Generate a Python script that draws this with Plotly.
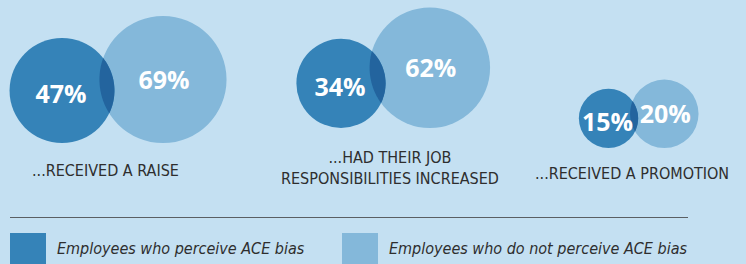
import math
import plotly.graph_objects as go

# ---- data ----
categories = ["...RECEIVED A RAISE", "...HAD THEIR JOB<br>RESPONSIBILITIES INCREASED", "...RECEIVED A PROMOTION"]
perceive_bias = [47, 34, 15]
no_perceive_bias = [69, 62, 20]
series_names = ["Employees who perceive ACE bias", "Employees who do not perceive ACE bias"]

# ---- layout constants (pixels) ----
W, H = 746, 264
BG = "#c4e0f2"
DARK = "#3583b8"
LIGHT = "#84b8da"
LENS = "#23649e"
TXT = "#2e2e2e"
FONT_C = "DejaVu Sans Condensed"
K = 7.65                     # radius = K * sqrt(value)  (area proportional)
dark_cx = [62, 341, 608.5]
bottom = [143, 128, 148]
overlap = [15, 16, 8]
label_x = [105, 390, 632]
label_y = [170, 168, 173.5]

fig = go.Figure()
shapes = []
pct_x, pct_y, pct_t = [], [], []

def lens_path(c1, r1, c2, r2, n=40):
    (x1, y1), (x2, y2) = c1, c2
    d = math.hypot(x2 - x1, y2 - y1)
    a = (r1**2 - r2**2 + d**2) / (2 * d)
    h = math.sqrt(max(r1**2 - a**2, 0))
    ux, uy = (x2 - x1) / d, (y2 - y1) / d
    px, py = x1 + a * ux, y1 + a * uy
    pA = (px + h * uy, py - h * ux)
    pB = (px - h * uy, py + h * ux)
    def ang(c, p):
        return math.atan2(p[1] - c[1], p[0] - c[0])
    mid = math.atan2(uy, ux)
    def arc(c, r, s, e, through):
        def norm(t):
            while t < s: t += 2 * math.pi
            while t >= s + 2 * math.pi: t -= 2 * math.pi
            return t
        e1 = norm(e); th = norm(through)
        span = e1 - s if th <= e1 else e1 - s - 2 * math.pi
        return [(c[0] + r * math.cos(s + span * i / n), c[1] + r * math.sin(s + span * i / n)) for i in range(n + 1)]
    pts = arc(c1, r1, ang(c1, pA), ang(c1, pB), mid)
    pts += arc(c2, r2, ang(c2, pB), ang(c2, pA), mid + math.pi)
    return "M " + " L ".join(f"{x:.2f},{y:.2f}" for x, y in pts) + " Z"

for i in range(len(categories)):
    r1 = K * math.sqrt(perceive_bias[i])
    r2 = K * math.sqrt(no_perceive_bias[i])
    c1 = (dark_cx[i], bottom[i] - r1)
    c2 = (dark_cx[i] + r1 + r2 - overlap[i], bottom[i] - r2)
    shapes.append(dict(type="circle", xref="x", yref="y", x0=c2[0]-r2, x1=c2[0]+r2, y0=c2[1]-r2, y1=c2[1]+r2,
                       fillcolor=LIGHT, line=dict(width=0), layer="below"))
    shapes.append(dict(type="circle", xref="x", yref="y", x0=c1[0]-r1, x1=c1[0]+r1, y0=c1[1]-r1, y1=c1[1]+r1,
                       fillcolor=DARK, line=dict(width=0), layer="below"))
    shapes.append(dict(type="path", xref="x", yref="y", path=lens_path(c1, r1, c2, r2),
                       fillcolor=LENS, line=dict(width=0), layer="below"))
    pct_x += [c1[0] - 1, c2[0] + 1]
    pct_y += [c1[1] + 6.5, c2[1] + 3]
    pct_t += [f"{perceive_bias[i]}%", f"{no_perceive_bias[i]}%"]

fig.add_trace(go.Scatter(x=pct_x, y=pct_y, text=pct_t, mode="text",
                         textfont=dict(family="Open Sans", size=25, color="white", weight="bold"),
                         hoverinfo="skip", showlegend=False))

annotations = []
for i, c in enumerate(categories):
    annotations.append(dict(x=label_x[i], y=label_y[i], xref="x", yref="y", text=c, showarrow=False,
                            font=dict(family=FONT_C, size=16, color=TXT),
                            xanchor="center", yanchor="middle", align="center"))

# divider line
shapes.append(dict(type="line", xref="x", yref="y", x0=10, x1=688, y0=217.5, y1=217.5,
                   line=dict(color="#5a5f63", width=1), layer="below"))
# legend
leg_x = [10, 342]
for j, (nm, col) in enumerate(zip(series_names, [DARK, LIGHT])):
    shapes.append(dict(type="rect", xref="x", yref="y", x0=leg_x[j], x1=leg_x[j] + 36, y0=233, y1=266,
                       fillcolor=col, line=dict(width=0), layer="below"))
    annotations.append(dict(x=leg_x[j] + 45, y=248.5, xref="x", yref="y", text=f"<i>{nm}</i>", showarrow=False,
                            font=dict(family=FONT_C, size=16, color=TXT),
                            xanchor="left", yanchor="middle"))

fig.update_layout(
    width=W, height=H, margin=dict(l=0, r=0, t=0, b=0),
    paper_bgcolor=BG, plot_bgcolor=BG,
    xaxis=dict(range=[0, W], visible=False, fixedrange=True),
    yaxis=dict(range=[H, 0], visible=False, fixedrange=True),
    shapes=shapes, annotations=annotations, showlegend=False,
)
fig.write_html("out.html", config={"displayModeBar": False},
               post_script="document.body.style.margin='0';document.body.style.background='%s';" % BG)
